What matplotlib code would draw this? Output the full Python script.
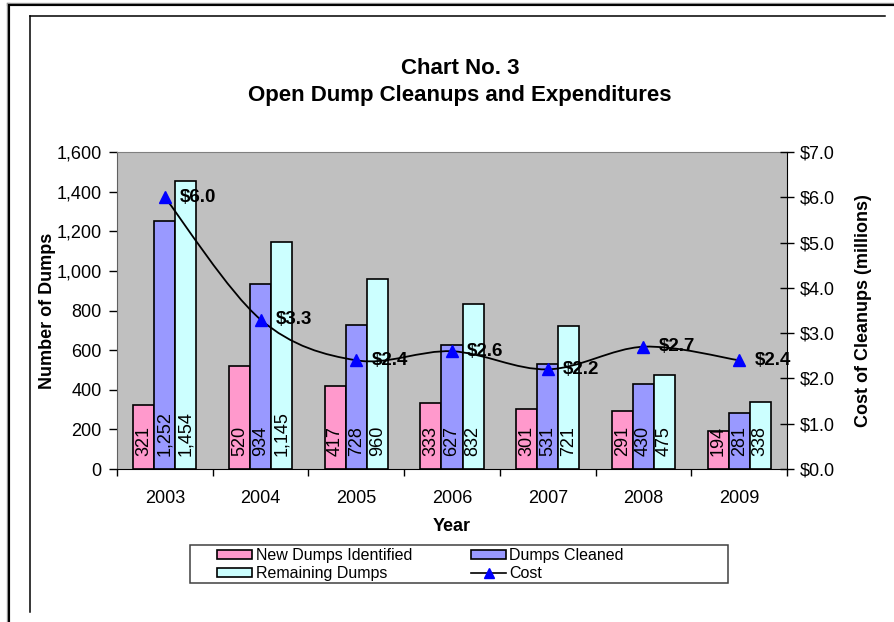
import matplotlib
matplotlib.use("Agg")
import matplotlib.pyplot as plt
import numpy as np
from matplotlib.path import Path
from matplotlib.patches import PathPatch, Rectangle, Patch
from matplotlib.lines import Line2D

plt.rcParams['font.family'] = ['Liberation Sans', 'DejaVu Sans']

years = ["2003", "2004", "2005", "2006", "2007", "2008", "2009"]
new_dumps = [321, 520, 417, 333, 301, 291, 194]
dumps_cleaned = [1252, 934, 728, 627, 531, 430, 281]
remaining = [1454, 1145, 960, 832, 721, 475, 338]
cost = [6.0, 3.3, 2.4, 2.6, 2.2, 2.7, 2.4]

W, H = 894, 622
fig = plt.figure(figsize=(W / 100, H / 100), dpi=100)

def fx(px):
    return px / W

def fy(py):
    return 1 - py / H

# frame lines
fig.add_artist(Line2D([fx(8), fx(8)], [fy(4), fy(640)], color='#909090', lw=2.4, transform=fig.transFigure))
fig.add_artist(Line2D([fx(8), fx(900)], [fy(4), fy(4)], color='#909090', lw=2.4, transform=fig.transFigure))
fig.add_artist(Line2D([fx(9), fx(9)], [fy(5), fy(640)], color='black', lw=1.4, transform=fig.transFigure))
fig.add_artist(Line2D([fx(9), fx(900)], [fy(5), fy(5)], color='black', lw=1.4, transform=fig.transFigure))
fig.add_artist(Line2D([fx(29.5), fx(29.5)], [fy(15.5), fy(612)], color='black', lw=1.1, transform=fig.transFigure))
fig.add_artist(Line2D([fx(29.5), fx(885)], [fy(15.5), fy(15.5)], color='black', lw=1.1, transform=fig.transFigure))

FS = 13
left, right, top, bottom = 117, 787, 152, 469
ax = fig.add_axes([fx(left), fy(bottom), (right - left) / W, (bottom - top) / H])
ax.set_facecolor('#C0C0C0')

x = np.arange(len(years))
bw = 0.22
colors = ['#FF99CC', '#9999FF', '#CCFFFF']
series = [new_dumps, dumps_cleaned, remaining]
for k, (vals, c) in enumerate(zip(series, colors)):
    xs = x + (k - 1) * bw
    ax.bar(xs, vals, width=bw, color=c, edgecolor='black', linewidth=1.2, zorder=2)
    for xi, v in zip(xs, vals):
        ax.annotate(f"{v:,}", (xi, 0), xytext=(0, 9), textcoords='offset points',
                    rotation=90, ha='center', va='bottom', fontsize=FS, zorder=3)

ax.set_xlim(-0.5, len(years) - 0.5)
ax.set_ylim(0, 1600)
ax.set_yticks(np.arange(0, 1601, 200))
ax.set_yticklabels([f"{v:,}" for v in range(0, 1601, 200)], fontsize=FS)
ax.set_xticks(x)
ax.set_xticklabels(years, fontsize=FS)
ax.set_xticks(np.arange(-0.5, len(years), 1), minor=True)
ax.tick_params(axis='x', which='major', length=0, pad=15)
ax.tick_params(axis='x', which='minor', length=5, direction='out', width=1)
ax.tick_params(axis='y', length=6, direction='out', width=1, pad=5)
ax.spines['top'].set_color('#808080')
ax.spines['left'].set_color('#606060')
ax.spines['bottom'].set_color('black')
ax.spines['right'].set_visible(False)
ax.set_ylabel("Number of Dumps", fontsize=FS, fontweight='bold', labelpad=0)
ax.set_xlabel("Year", fontsize=FS, fontweight='bold', labelpad=8)

ax2 = ax.twinx()
ax2.set_ylim(0, 7)
ax2.set_yticks(np.arange(0, 8, 1))
ax2.set_yticklabels([f"${v:.1f}" for v in range(0, 8)], fontsize=FS)
ax2.tick_params(axis='y', length=10, direction='inout', width=1, pad=4)
ax2.spines['right'].set_color('black')
for s in ['top', 'left', 'bottom']:
    ax2.spines[s].set_visible(False)
ax2.set_ylabel("Cost of Cleanups (millions)", fontsize=FS, fontweight='bold', labelpad=15)

# smoothed cost line (Bezier through data points)
pts = np.column_stack([x, cost]).astype(float)
verts = [tuple(pts[0])]
codes = [Path.MOVETO]
n = len(pts)
for i in range(n - 1):
    p0 = pts[i - 1] if i > 0 else pts[i]
    p1 = pts[i]
    p2 = pts[i + 1]
    p3 = pts[i + 2] if i + 2 < n else pts[i + 1]
    c1 = p1 + (p2 - p0) / 6
    c2 = p2 - (p3 - p1) / 6
    verts += [tuple(c1), tuple(c2), tuple(p2)]
    codes += [Path.CURVE4] * 3
ax2.add_patch(PathPatch(Path(verts, codes), facecolor='none', edgecolor='black', lw=1.3, zorder=4))
ax2.plot(x, cost, linestyle='none', marker='^', color='#0000FF', markersize=8, zorder=5)
for xi, v in zip(x, cost):
    ax2.annotate(f"${v:.1f}", (xi, v), xytext=(11, 0), textcoords='offset points',
                 ha='left', va='center', fontsize=13.5, fontweight='bold', zorder=6)

# titles
fig.text(fx(460), fy(69), "Chart No. 3", ha='center', va='center', fontsize=16, fontweight='bold')
fig.text(fx(460), fy(96), "Open Dump Cleanups and Expenditures", ha='center', va='center', fontsize=16, fontweight='bold')

# legend
fig.add_artist(Rectangle((fx(189.5), fy(582.5)), (728 - 189.5) / W, (582.5 - 545) / H,
                         transform=fig.transFigure, facecolor='white', edgecolor='#404040', lw=1.1))
handles = [Patch(facecolor=colors[0], edgecolor='black', lw=1.2),
           Patch(facecolor=colors[2], edgecolor='black', lw=1.2),
           Patch(facecolor=colors[1], edgecolor='black', lw=1.2),
           Line2D([], [], color='black', marker='^', markerfacecolor='#0000FF',
                  markeredgecolor='#0000FF', markersize=7, lw=1.2)]
leg_labels = ['New Dumps Identified', 'Remaining Dumps', 'Dumps Cleaned', 'Cost']
fig.legend(handles, leg_labels, ncol=2, loc='upper left', bbox_to_anchor=(fx(214), fy(545)),
           frameon=False, fontsize=11.5, handlelength=2.2, handleheight=0.5, handletextpad=0.2,
           labelspacing=0.2, columnspacing=3.7, borderpad=0.2, borderaxespad=0)

fig.savefig("out.png", dpi=100)
